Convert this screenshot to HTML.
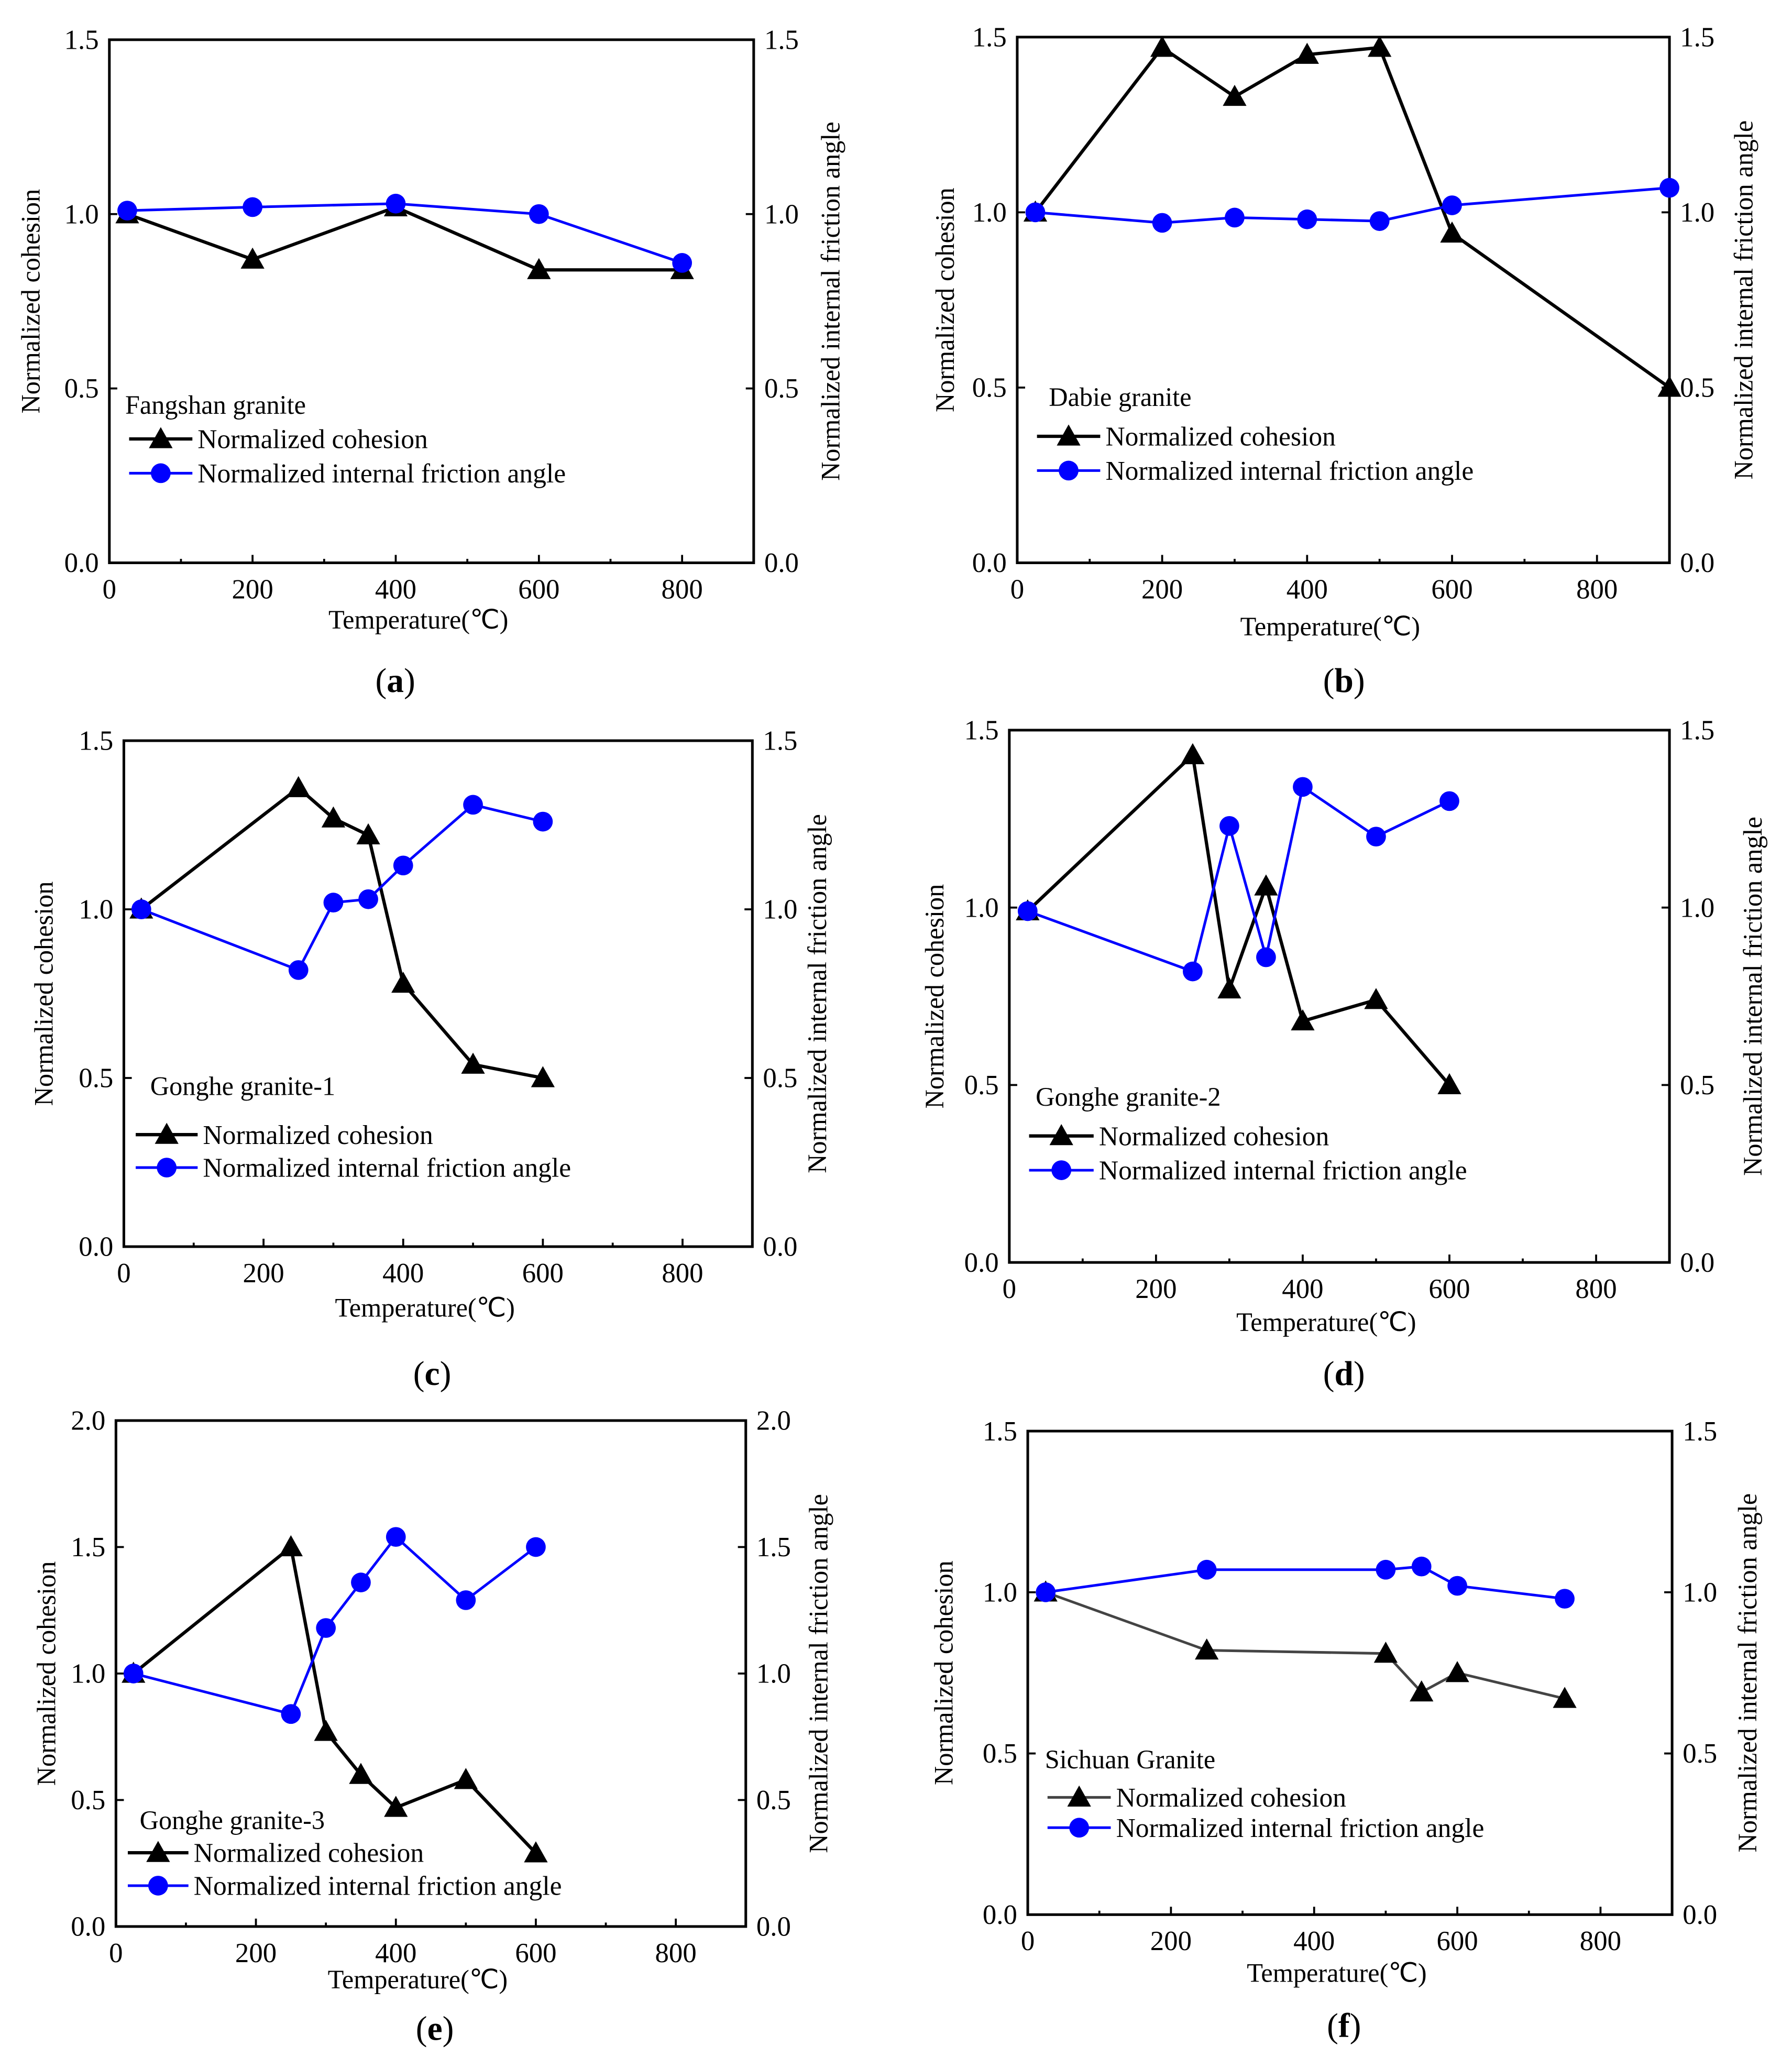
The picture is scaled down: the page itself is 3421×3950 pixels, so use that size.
<!DOCTYPE html>
<html><head><meta charset="utf-8"><style>
html,body{margin:0;padding:0;background:#fff}
svg{display:block}
text{font-family:"Liberation Serif",serif;fill:#000}
</style></head><body>
<svg id="fig" width="3421" height="3950" viewBox="0 0 1360 1570" xmlns="http://www.w3.org/2000/svg"></svg>
<script>
const NS="http://www.w3.org/2000/svg";
const svg=document.getElementById('fig');

// Panel data
const aTemps=[25,200,400,600,800];
const aCoh=[1.0,0.87,1.02,0.84,0.84];
const aFric=[1.01,1.02,1.03,1.0,0.86];
const bTemps=[25,200,300,400,500,600,900];
const bCoh=[1.0,1.47,1.33,1.45,1.47,0.94,0.5];
const bFric=[1.0,0.97,0.985,0.98,0.975,1.02,1.07];
const cTemps=[25,250,300,350,400,500,600];
const cCoh=[1.0,1.36,1.27,1.22,0.78,0.54,0.5];
const cFric=[1.0,0.82,1.02,1.03,1.13,1.31,1.26];
const dTemps=[25,250,300,350,400,500,600];
const dCoh=[0.99,1.43,0.77,1.06,0.68,0.74,0.5];
const dFric=[0.99,0.82,1.23,0.86,1.34,1.2,1.3];
const eTemps=[25,250,300,350,400,500,600];
const eCoh=[1.0,1.5,0.77,0.6,0.47,0.58,0.29];
const eFric=[1.0,0.84,1.18,1.36,1.54,1.29,1.5];
const fTemps=[25,250,500,550,600,750];
const fCoh=[1.0,0.82,0.81,0.69,0.75,0.67];
const fFric=[1.0,1.07,1.07,1.08,1.02,0.98];
const xTicks=[0,200,400,600,800];
const yTicks15=["0.0","0.5","1.0","1.5"];
const yTicks20=["0.0","0.5","1.0","1.5","2.0"];

function el(tag,attrs,parent,txt){const e=document.createElementNS(NS,tag);for(const k in attrs)e.setAttribute(k,attrs[k]);if(txt!==undefined)e.textContent=txt;(parent||svg).appendChild(e);return e;}

function panel(p){
  const g=el('g',{});
  
  
  const X=v=>p.L+(v/900)*(p.R-p.L);
  const Y=v=>p.B-(v/p.ymax)*(p.B-p.T);
  const fr=el('rect',{x:p.L,y:p.T,width:p.R-p.L,height:p.B-p.T,fill:'none',stroke:'#000','stroke-width':2},g);
  
  
  for(let v=0;v<=900;v+=100){
    const maj=v%200===0;
    el('line',{x1:X(v),x2:X(v),y1:p.B,y2:p.B-(maj?6:3),stroke:'#000','stroke-width':1.5},g);
  }
  xTicks.forEach(v=>{const t=el('text',{x:X(v),y:p.B+27,'font-size':21,'text-anchor':'middle'},g,String(v));
    });
  const labs=p.ymax===2?yTicks20:yTicks15;
  labs.forEach(s=>{const v=parseFloat(s);
    el('line',{x1:p.L,x2:p.L+6,y1:Y(v),y2:Y(v),stroke:'#000','stroke-width':1.5},g);
    el('line',{x1:p.R,x2:p.R-6,y1:Y(v),y2:Y(v),stroke:'#000','stroke-width':1.5},g);
    const t1=el('text',{x:p.L-8,y:Y(v)+7,'font-size':21,'text-anchor':'end'},g,s);
    
    const t2=el('text',{x:p.R+8,y:Y(v)+7,'font-size':21,'text-anchor':'start'},g,s);
    
  });
  const yc=(p.T+p.B)/2;
  const yl=el('text',{x:p.ylx,y:yc,'font-size':20,'text-anchor':'middle',transform:`rotate(-90 ${p.ylx} ${yc})`},g,'Normalized cohesion');
  
  const yr=el('text',{x:p.yrx,y:yc,'font-size':20,'text-anchor':'middle',transform:`rotate(-90 ${p.yrx} ${yc})`},g,'Normalized internal friction angle');
  
  const xl=el('text',{x:(p.L+p.R)/2-10,y:p.xly,'font-size':20,'text-anchor':'middle'},g,'Temperature(℃)');
  
  const cap=el('text',{x:p.capx,y:p.capy,'font-size':26,'text-anchor':'middle'},g);
  
  el('tspan',{},cap,'(');el('tspan',{'font-weight':'bold'},cap,p.id);el('tspan',{},cap,')');
  const cohColor=p.gray?'#444':'#000';
  const sw=p.gray?2:2.5;
  const pc=el('polyline',{points:p.t.map((t,i)=>X(t)+','+Y(p.coh[i])).join(' '),fill:'none',stroke:cohColor,'stroke-width':sw},g);
  
  const pf=el('polyline',{points:p.t.map((t,i)=>X(t)+','+Y(p.fric[i])).join(' '),fill:'none',stroke:'#0000ff','stroke-width':2},g);
  
  const tri=(x,y,c)=>el('polygon',{points:`${x},${y-9} ${x-9},${y+7} ${x+9},${y+7}`,fill:c},g);
  p.t.forEach((t,i)=>{const m=tri(X(t),Y(p.coh[i]),'#000');
    });
  p.t.forEach((t,i)=>{const m=el('circle',{cx:X(t),cy:Y(p.fric[i]),r:7.5,fill:'#0000ff'},g);
    });
  const lg=el('g',{},g);
  
  el('text',{x:p.lg[0],y:p.lg[1]+6,'font-size':20},lg,p.title);
  const [lx1,lx2,ly1,ly2]=p.le;
  el('line',{x1:lx1,x2:lx2,y1:ly1,y2:ly1,stroke:cohColor,'stroke-width':sw},lg);
  tri((lx1+lx2)/2,ly1,'#000');
  const e1=el('text',{x:lx2+4,y:ly1+7,'font-size':20.5},lg,'Normalized cohesion');
  
  el('line',{x1:lx1,x2:lx2,y1:ly2,y2:ly2,stroke:'#0000ff','stroke-width':2},lg);
  el('circle',{cx:(lx1+lx2)/2,cy:ly2,r:7.5,fill:'#0000ff'},lg);
  const e2=el('text',{x:lx2+4,y:ly2+7,'font-size':20.5},lg,'Normalized internal friction angle');
  
}

panel({id:'a',L:83,R:572,T:30,B:427,ymax:1.5,t:aTemps,coh:aCoh,fric:aFric,ylx:30,yrx:637,xly:477,capx:300,capy:525,title:'Fangshan granite',lg:[95,308],le:[98,146,333,359]});
panel({id:'b',L:772,R:1267,T:28,B:427,ymax:1.5,t:bTemps,coh:bCoh,fric:bFric,ylx:724,yrx:1330,xly:482,capx:1020,capy:525,title:'Dabie granite',lg:[796,302],le:[787,835,331,357]});
panel({id:'c',L:94,R:571,T:562,B:946,ymax:1.5,t:cTemps,coh:cCoh,fric:cFric,ylx:40,yrx:627,xly:999,capx:328,capy:1051,title:'Gonghe granite-1',lg:[114,825],le:[103,150,861,886]});
panel({id:'d',L:766,R:1267,T:554,B:958,ymax:1.5,t:dTemps,coh:dCoh,fric:dFric,ylx:716,yrx:1337,xly:1010,capx:1020,capy:1051,title:'Gonghe granite-2',lg:[786,833],le:[781,830,862,888]});
panel({id:'e',L:88,R:566,T:1078,B:1462,ymax:2.0,t:eTemps,coh:eCoh,fric:eFric,ylx:42,yrx:628,xly:1509,capx:330,capy:1548,title:'Gonghe granite-3',lg:[106,1382],le:[97,143,1406,1431]});
panel({id:'f',L:780,R:1269,T:1086,B:1453,ymax:1.5,t:fTemps,coh:fCoh,fric:fFric,ylx:723,yrx:1333,xly:1504,capx:1020,capy:1546,title:'Sichuan Granite',lg:[793,1336],le:[795,843,1364,1387],gray:true});
</script>
</body></html>
